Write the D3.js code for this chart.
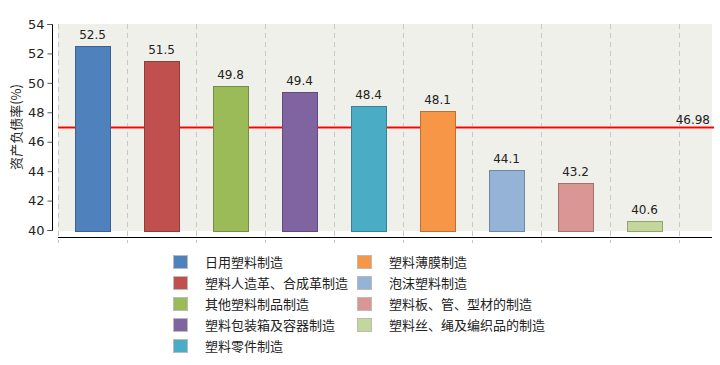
<!DOCTYPE html>
<html>
<head>
<meta charset="utf-8">
<script src="https://cdn.jsdelivr.net/npm/d3@7"></script>
<style>
  body { margin: 0; background: #fff; }
  svg { display: block; }
  .num { font-family: "DejaVu Sans", Verdana, sans-serif; font-size: 12px; fill: #222; }
  .cjk { font-family: "Noto Sans CJK SC", sans-serif; font-size: 12px; fill: #222; }
</style>
</head>
<body>
<svg id="chart" width="720" height="365"></svg>
<script>
var categories = ['日用塑料制造', '塑料人造革、合成革制造', '其他塑料制品制造', '塑料包装箱及容器制造',
  '塑料零件制造', '塑料薄膜制造', '泡沫塑料制造', '塑料板、管、型材的制造', '塑料丝、绳及编织品的制造'];
var values = [52.5, 51.5, 49.8, 49.4, 48.4, 48.1, 44.1, 43.2, 40.6];
var colors = ['#4f81bd', '#c0504d', '#9bbb59', '#8064a2', '#4bacc6', '#f79646', '#95b3d7', '#da9694', '#c4d79b'];
var yTicks = [40, 42, 44, 46, 48, 50, 52, 54];
var average = 46.98;

var svg = d3.select('#chart');

var x = d3.scaleBand().domain(categories).range([58, 679]).paddingInner(0.49).paddingOuter(0.245);
var y = d3.scaleLinear().domain([40, 54]).range([230, 24]);

// plot background
svg.append('rect')
    .attr('x', 58).attr('y', 24)
    .attr('width', 654).attr('height', 207)
    .attr('fill', '#f0f0ea');

// dashed vertical grid lines between categories
var gridX = d3.range(10).map(function(i) { return 58 + i * x.step(); });
svg.selectAll('line.grid').data(gridX).enter().append('line')
    .attr('class', 'grid')
    .attr('x1', function(d) { return Math.round(d) + 0.5; })
    .attr('x2', function(d) { return Math.round(d) + 0.5; })
    .attr('y1', 24).attr('y2', 243)
    .attr('stroke', '#c8c8c8')
    .attr('stroke-dasharray', '5,4');

// average line (behind the bars)
var avgY = Math.round(y(average)) + 0.5;
svg.append('line')
    .attr('x1', 58).attr('x2', 714)
    .attr('y1', avgY).attr('y2', avgY)
    .attr('stroke', '#ffa8a8').attr('stroke-width', 3);
svg.append('line')
    .attr('x1', 58).attr('x2', 714)
    .attr('y1', avgY).attr('y2', avgY)
    .attr('stroke', '#ff0000').attr('stroke-width', 1.5);
svg.append('text')
    .attr('class', 'num')
    .attr('x', 710).attr('y', avgY - 4)
    .attr('text-anchor', 'end')
    .text(average.toFixed(2));

// bars
svg.selectAll('rect.bar').data(values).enter().append('rect')
    .attr('class', 'bar')
    .attr('x', function(d, i) { return Math.round(x(categories[i])) + 0.5; })
    .attr('y', function(d) { return Math.round(y(d)) + 0.5; })
    .attr('width', Math.round(x.bandwidth()))
    .attr('height', function(d) { return 231 - Math.round(y(d)); })
    .attr('fill', function(d, i) { return colors[i]; })
    .attr('stroke', function(d, i) { return d3.color(colors[i]).darker(0.8); })
    .attr('stroke-width', 1);

// value labels
svg.selectAll('text.val').data(values).enter().append('text')
    .attr('class', 'num')
    .attr('x', function(d, i) { return x(categories[i]) + x.bandwidth() / 2; })
    .attr('y', function(d) { return y(d) - 7; })
    .attr('text-anchor', 'middle')
    .text(function(d) { return d.toFixed(1); });

// y axis
var yAxis = d3.axisLeft(y).tickValues(yTicks).tickSize(5).tickPadding(3);
var gy = svg.append('g').attr('transform', 'translate(52.5,0)').call(yAxis);
gy.select('.domain').attr('d', 'M-5,24.5H0V230.5H-5').attr('stroke', '#000');
gy.selectAll('.tick line').attr('stroke', '#555');
gy.selectAll('.tick text').attr('class', 'num').style('font-size', '13px').attr('fill', '#222');

// x axis line
svg.append('line')
    .attr('x1', 58).attr('x2', 712)
    .attr('y1', 237.5).attr('y2', 237.5)
    .attr('stroke', '#000');

// y axis title
svg.append('text')
    .attr('class', 'cjk')
    .style('font-size', '13px')
    .attr('transform', 'translate(21,127) rotate(-90)')
    .attr('text-anchor', 'middle')
    .text('资产负债率(%)');

// legend, two columns
var legend = svg.selectAll('g.legend').data(categories).enter().append('g')
    .attr('class', 'legend')
    .attr('transform', function(d, i) {
      var col = i < 5 ? 0 : 1;
      var row = i < 5 ? i : i - 5;
      return 'translate(' + (col === 0 ? 173 : 357) + ',' + (262 + row * 21) + ')';
    });
legend.append('rect')
    .attr('x', 0.5).attr('y', -6.5)
    .attr('width', 14).attr('height', 13)
    .attr('fill', function(d, i) { return colors[i]; })
    .attr('stroke', '#bbb');
legend.append('text')
    .attr('class', 'cjk')
    .attr('x', 32).attr('y', 4.5)
    .style('font-size', '13px')
    .text(function(d) { return d; });
</script>
</body>
</html>
